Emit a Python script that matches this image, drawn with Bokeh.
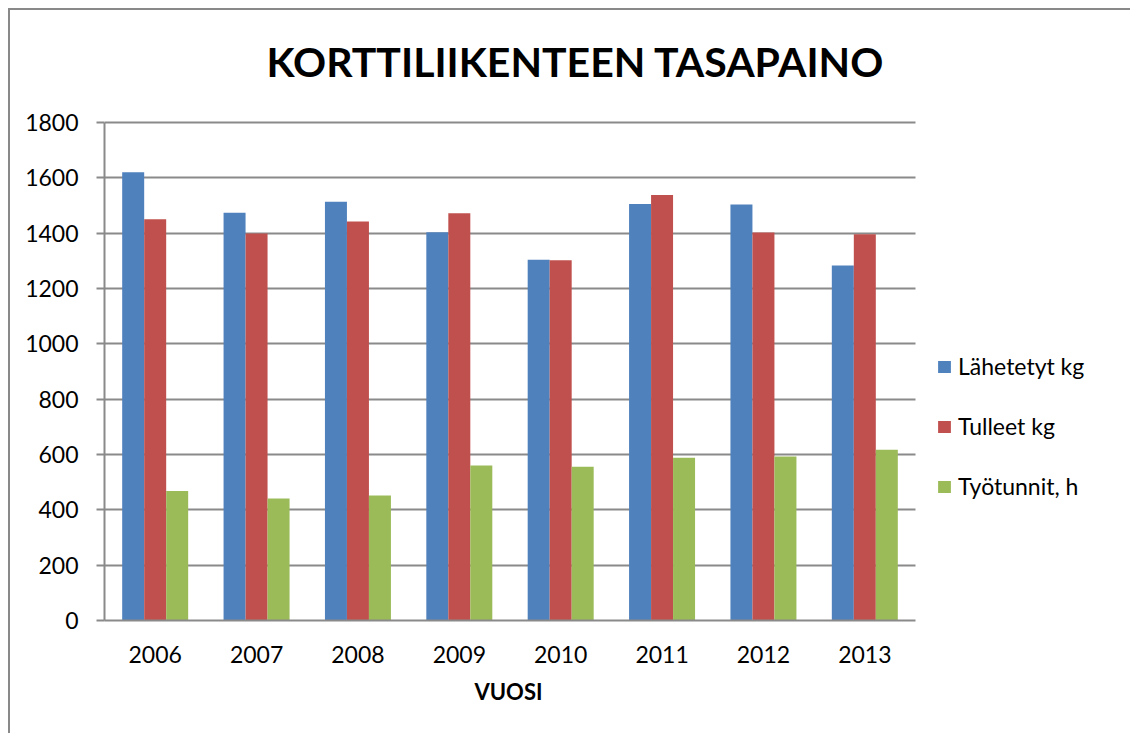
from bokeh.plotting import figure
from bokeh.models import ColumnDataSource, Range1d, Legend, LegendItem, FixedTicker, Label, Title
from bokeh.transform import dodge
from bokeh.embed import file_html
from bokeh.resources import INLINE

years = ["2006", "2007", "2008", "2009", "2010", "2011", "2012", "2013"]
lahetetyt = [1620, 1474, 1514, 1403, 1304, 1505, 1504, 1283]
tulleet = [1450, 1399, 1442, 1472, 1302, 1538, 1402, 1396]
tyotunnit = [468, 441, 452, 560, 556, 588, 593, 617]
series_names = ["Lähetetyt kg", "Tulleet kg", "Työtunnit, h"]
colors = ["#4F81BD", "#C0504D", "#9BBB59"]
yticks = [0, 200, 400, 600, 800, 1000, 1200, 1400, 1600, 1800]
title_text = "KORTTILIIKENTEEN TASAPAINO"
xlabel_text = "VUOSI"

FONT = "Lato"
GRID = "#8a8a8a"

# layout constants (pixels)
W, H = 1122, 725
LEFT, BOTTOM = 94, 115
PLOT_W, PLOT_H = 811, 498   # size of the actual chart area (categories x 0..1800)
n = len(years)
cat_px = PLOT_W / n
extra_x = (W - LEFT - PLOT_W) / cat_px
ymax = yticks[-1]
y_end = ymax * (H - BOTTOM) / PLOT_H

idx = list(range(n))
src = ColumnDataSource(dict(x=idx, a=lahetetyt, b=tulleet, c=tyotunnit))

p = figure(width=W, height=H, x_range=Range1d(-0.5, n - 0.5 + extra_x), y_range=Range1d(0, y_end),
           output_backend="svg", toolbar_location=None,
           min_border_left=LEFT, min_border_right=0, min_border_top=0, min_border_bottom=BOTTOM)
p.styles = {"margin-left": "8px", "margin-top": "8px",
            "border-left": "2px solid #898989", "border-top": "2px solid #898989"}
p.outline_line_color = None
p.background_fill_color = "white"
p.border_fill_color = "white"

bw = 0.217
renderers = []
for key, off, col in zip(["a", "b", "c"], [-bw, 0, bw], colors):
    r = p.vbar(x=dodge("x", off), top=key, width=bw, source=src,
               fill_color=col, line_color=None)
    renderers.append(r)

# title (inside the frame area above the chart)
p.add_layout(Label(x=471, y=559, x_units="screen", y_units="screen", text=title_text,
                   text_font=FONT, text_font_style="bold", text_font_size="41px",
                   text_align="center", text_baseline="alphabetic", text_color="black"))

# y axis
p.yaxis.ticker = FixedTicker(ticks=yticks)
p.yaxis.bounds = (0, ymax)
p.yaxis.axis_line_color = GRID
p.yaxis.axis_line_width = 2
p.yaxis.major_tick_line_color = GRID
p.yaxis.major_tick_line_width = 2
p.yaxis.major_tick_out = 8
p.yaxis.major_tick_in = 0
p.yaxis.minor_tick_line_color = None
p.yaxis.major_label_standoff = 18
p.yaxis.major_label_text_font = FONT
p.yaxis.major_label_text_font_size = "23px"
p.yaxis.major_label_text_color = "black"

# x axis
p.xaxis.ticker = FixedTicker(ticks=idx)
p.xaxis.major_label_overrides = {i: y for i, y in zip(idx, years)}
p.xaxis.bounds = (-0.5, n - 0.5)
p.xaxis.axis_line_color = GRID
p.xaxis.axis_line_width = 2
p.xaxis.major_tick_line_color = None
p.xaxis.minor_tick_line_color = None
p.xaxis.major_tick_out = 0
p.xaxis.major_label_standoff = 25
p.xaxis.major_label_text_font = FONT
p.xaxis.major_label_text_font_size = "23px"
p.xaxis.major_label_text_color = "black"

p.add_layout(Title(text=xlabel_text, align="left", offset=370, standoff=20,
                   text_font=FONT, text_font_style="bold", text_font_size="22px",
                   text_color="black"), "below")

p.xgrid.grid_line_color = None
p.ygrid.grid_line_color = GRID
p.ygrid.grid_line_width = 2
p.ygrid.cross_bounds = (-0.5, n - 0.5)

legend = Legend(items=[LegendItem(label=s, renderers=[r]) for s, r in zip(series_names, renderers)],
                location=(PLOT_W + 21, 120), orientation="vertical",
                glyph_width=16, glyph_height=15, label_height=28, spacing=32,
                label_standoff=6, padding=0, margin=0,
                label_text_font=FONT, label_text_font_size="23px", label_text_color="black",
                border_line_color=None, background_fill_alpha=0)
p.add_layout(legend, "center")

open("out.html", "w").write(file_html(p, INLINE))
